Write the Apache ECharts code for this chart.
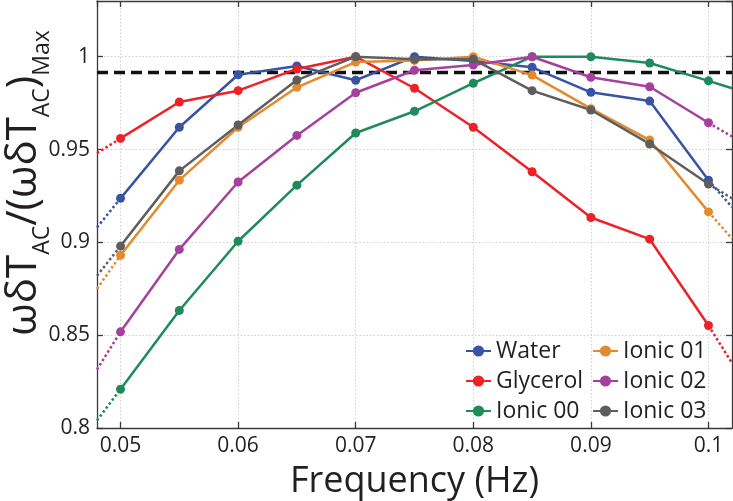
<!DOCTYPE html>
<html>
<head>
<meta charset="utf-8">
<script src="https://cdn.jsdelivr.net/npm/echarts@6/dist/echarts.min.js"></script>
<style>
html,body{margin:0;padding:0;background:#fff;}
#chart{width:733px;height:501px;}
</style>
</head>
<body>
<div id="chart"></div>
<script>
// ---- data ----
var freq = [0.05, 0.055, 0.06, 0.065, 0.07, 0.075, 0.08, 0.085, 0.09, 0.095, 0.1];
var seriesNames = ['Water', 'Glycerol', 'Ionic 00', 'Ionic 01', 'Ionic 02', 'Ionic 03'];
var water    = [0.9237, 0.962, 0.9903, 0.995, 0.9873, 1.0, 0.9977, 0.9943, 0.9808, 0.9761, 0.9335];
var glycerol = [0.956, 0.9756, 0.9817, 0.9934, 1.0, 0.983, 0.962, 0.938, 0.9134, 0.9017, 0.8552];
var ionic00  = [0.8209, 0.8633, 0.9006, 0.9308, 0.9589, 0.9706, 0.9857, 1.0, 1.0, 0.9966, 0.987];
var ionic01  = [0.893, 0.9335, 0.962, 0.9835, 0.9971, 0.998, 1.0, 0.9901, 0.972, 0.9551, 0.9164];
var ionic02  = [0.8518, 0.8962, 0.9325, 0.9576, 0.9806, 0.9927, 0.9955, 1.0, 0.9889, 0.9838, 0.9644];
var ionic03  = [0.898, 0.9385, 0.9632, 0.9874, 1.0, 0.9986, 0.9986, 0.9817, 0.9713, 0.953, 0.9314];
// values of the dotted continuations where they meet the left / right plot edges
var leftEdge  = [0.908, 0.948, 0.804, 0.875, 0.8315, 0.882];
var rightEdge = [0.919, 0.835, 0.983, 0.902, 0.957, 0.9237];
var rightDotted = [true, true, false, true, true, true];
var thresholdValue = 0.9915;
var xMin = 0.048, xMax = 0.102;
var yMin = 0.8, yMax = 1.03;
var xTicks = ['0.05', '0.06', '0.07', '0.08', '0.09', '0.1'];
var yTicks = ['0.8', '0.85', '0.9', '0.95', '1'];

// ---- styles ----
var colors = ['#3953a4', '#ec2227', '#1f8a5b', '#e3892e', '#a6409d', '#5e5e5e'];
var FONT = 'Open Sans';
var allValues = [water, glycerol, ionic00, ionic01, ionic02, ionic03];

var series = [];
// threshold dashed line
series.push({
  type: 'line', name: 'threshold', data: [[xMin, thresholdValue], [xMax, thresholdValue]],
  symbol: 'none', silent: true, z: 1,
  lineStyle: { color: '#111', width: 3.5, type: [11, 6] }
});
for (var i = 0; i < seriesNames.length; i++) {
  var vals = allValues[i];
  var n = vals.length;
  series.push({
    type: 'line', name: seriesNames[i] + ' L', silent: true, symbol: 'none', z: 2,
    data: [[xMin, leftEdge[i]], [freq[0], vals[0]]],
    lineStyle: { color: colors[i], width: 2.5, type: [2.5, 2.5] }
  });
  series.push({
    type: 'line', name: seriesNames[i] + ' R', silent: true, symbol: 'none', z: 2,
    data: [[freq[n - 1], vals[n - 1]], [xMax, rightEdge[i]]],
    lineStyle: { color: colors[i], width: 2.5, type: rightDotted[i] ? [2.5, 2.5] : 'solid' }
  });
}
for (var j = 0; j < seriesNames.length; j++) {
  var v = allValues[j];
  series.push({
    type: 'line', name: seriesNames[j], z: 3,
    data: freq.map(function (f, k) { return [f, v[k]]; }),
    symbol: 'circle', symbolSize: 9,
    itemStyle: { color: colors[j] },
    lineStyle: { color: colors[j], width: 2.5 }
  });
}

function fmt(v) { return String(+(+v).toFixed(3)); }

var axisLineStyle = { color: '#3a3a3a', width: 1.3 };
var splitStyle = { color: '#cfcfcf', width: 1, type: [1.5, 2] };

var legendText = { fontSize: 23, fontFamily: FONT, color: '#231f20', lineHeight: 26 };

var option = {
  animation: false,
  backgroundColor: '#fff',
  grid: { left: 97, right: 1, top: 1, bottom: 73, containLabel: false, outerBoundsMode: 'none' },
  xAxis: [{
    type: 'value', min: xMin, max: xMax, splitNumber: 5,
    axisLine: { show: true, lineStyle: axisLineStyle },
    axisTick: { show: true, inside: true, length: 6, lineStyle: axisLineStyle },
    axisLabel: {
      show: true, showMinLabel: false, showMaxLabel: false, margin: 8,
      fontSize: 21, fontFamily: FONT, color: '#231f20',
      formatter: function (v) { var s = fmt(v); return xTicks.indexOf(s) >= 0 ? s : ''; }
    },
    splitLine: { show: true, lineStyle: splitStyle },
    name: 'Frequency (Hz)', nameLocation: 'middle', nameGap: 29,
    nameTextStyle: { fontSize: 36, fontFamily: FONT, color: '#231f20', verticalAlign: 'top', lineHeight: 40 }
  }, {
    type: 'value', position: 'top', min: xMin, max: xMax, splitNumber: 5,
    axisLine: { show: true, lineStyle: axisLineStyle },
    axisTick: { show: true, inside: true, length: 6, lineStyle: axisLineStyle },
    axisLabel: { show: false }, splitLine: { show: false }
  }],
  yAxis: [{
    type: 'value', min: yMin, max: yMax, interval: 0.05,
    axisLine: { show: true, lineStyle: axisLineStyle },
    axisTick: { show: true, inside: true, length: 6, lineStyle: axisLineStyle },
    axisLabel: {
      show: true, showMaxLabel: false, margin: 7,
      fontSize: 21, fontFamily: FONT, color: '#231f20',
      formatter: function (v) { var s = fmt(v); return yTicks.indexOf(s) >= 0 ? s : ''; }
    },
    splitLine: { show: true, lineStyle: splitStyle }
  }, {
    type: 'value', position: 'right', min: yMin, max: yMax, interval: 0.05,
    axisLine: { show: true, lineStyle: axisLineStyle },
    axisTick: { show: true, inside: true, length: 6, lineStyle: axisLineStyle },
    axisLabel: { show: false }, splitLine: { show: false }
  }],
  legend: [{
    data: seriesNames.slice(0, 3), orient: 'vertical', left: 465, top: 338, padding: 0,
    itemWidth: 25, itemHeight: 14, itemGap: 4, textStyle: legendText
  }, {
    data: seriesNames.slice(3, 6), orient: 'vertical', left: 592, top: 338, padding: 0,
    itemWidth: 25, itemHeight: 14, itemGap: 4, textStyle: legendText
  }],
  graphic: [{
    type: 'text', x: 26, y: 183, rotation: Math.PI / 2, silent: true,
    style: {
      text: '{m|ωδT}{s|AC}{m|/(ωδT}{s|AC}{m|)}{s|Max}',
      align: 'center', verticalAlign: 'middle', fill: '#231f20',
      rich: {
        m: { fontSize: 42, fontFamily: FONT, fill: '#231f20', lineHeight: 46, verticalAlign: 'top' },
        s: { fontSize: 23, fontFamily: FONT, fill: '#231f20', lineHeight: 24, verticalAlign: 'top', padding: [28, 0, 0, 0] }
      }
    }
  }],
  series: series
};

var chart = echarts.init(document.getElementById('chart'), null, { renderer: 'canvas' });
chart.setOption(option);
</script>
</body>
</html>
